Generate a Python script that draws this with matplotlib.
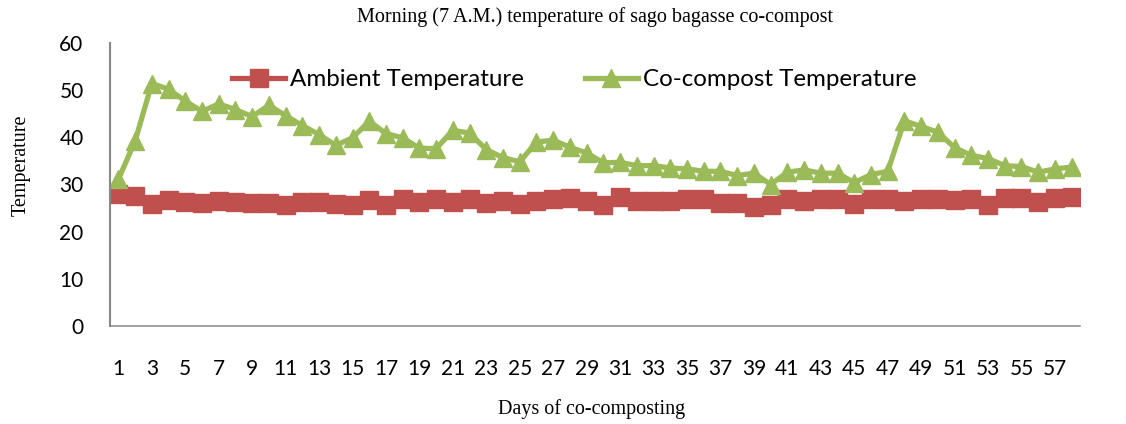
import matplotlib
matplotlib.use("Agg")
import matplotlib.pyplot as plt

days = list(range(1, 59))
ambient = [27.9, 27.5, 25.8, 26.8, 26.3, 26.1, 26.4, 26.2, 26.0, 26.0,
           25.7, 26.3, 26.3, 25.9, 25.6, 26.8, 25.6, 26.9, 26.2, 27.0,
           26.2, 27.0, 26.1, 26.6, 25.9, 26.4, 27.0, 27.1, 26.6, 25.7,
           27.3, 26.5, 26.4, 26.4, 27.0, 27.0, 26.1, 26.0, 25.3, 25.6,
           27.0, 26.4, 27.0, 27.0, 25.9, 27.0, 27.0, 26.4, 27.0, 27.0,
           26.8, 27.0, 25.6, 27.1, 27.2, 26.3, 27.1, 27.3]
compost = [31.1, 39.2, 51.4, 50.2, 47.7, 45.5, 47.1, 45.9, 44.4, 46.8,
           44.6, 42.5, 40.6, 38.3, 39.9, 43.4, 40.8, 39.9, 37.7, 37.6,
           41.5, 40.9, 37.4, 35.7, 34.8, 39.0, 39.4, 37.9, 36.7, 34.6,
           34.7, 34.0, 34.0, 33.5, 33.3, 32.8, 32.8, 31.9, 32.4, 30.0,
           32.6, 33.1, 32.4, 32.4, 30.4, 32.1, 32.8, 43.5, 42.3, 41.1,
           37.8, 36.2, 35.5, 34.0, 33.8, 32.6, 33.3, 33.7]
xtick_labels = [str(d) for d in range(1, 58, 2)]
yticks = [0, 10, 20, 30, 40, 50, 60]

fig = plt.figure(figsize=(11.26, 4.24), dpi=100)
ax = fig.add_axes([110/1126, 1 - 326/424, 970/1126, 283/424])

ax.plot(days, ambient, color="#C0504D", lw=3.8, marker="s", ms=13,
        label="Ambient Temperature")
ax.plot(days, compost, color="#9BBB59", lw=3.8, marker="^", ms=13,
        label="Co-compost Temperature")

ax.set_xlim(0.5, 58.5)
ax.set_ylim(0, 60)
ax.set_yticks(yticks)
ax.set_xticks(list(range(1, 58, 2)))
ax.set_xticklabels(xtick_labels)
for s in ["top", "right"]:
    ax.spines[s].set_visible(False)
ax.spines["left"].set_color("#888888")
ax.spines["left"].set_linewidth(1.5)
ax.spines["bottom"].set_color("#888888")
ax.spines["bottom"].set_linewidth(1.1)
ax.tick_params(axis="x", length=0, pad=23.5, labelsize=15)
ax.tick_params(axis="y", length=0, pad=19, labelsize=15)
for t in ax.get_xticklabels() + ax.get_yticklabels():
    t.set_fontfamily("Lato")

ax.set_title("Morning (7 A.M.) temperature of sago bagasse co-compost",
             family="Liberation Serif", fontsize=14.5, pad=15)
ax.set_ylabel("Temperature", family="Liberation Serif", fontsize=14.5)
ax.yaxis.set_label_coords(-0.0816, 0.567)
ax.set_xlabel("Days of co-composting", family="Liberation Serif", fontsize=14.5)
ax.xaxis.set_label_coords(0.496, -0.258)

leg = ax.legend(loc="center left", bbox_to_anchor=(0.126, 0.87), ncol=2,
                frameon=False, borderpad=0, borderaxespad=0,
                handlelength=2.2, handletextpad=0.2, columnspacing=2.5,
                prop={"family": "Lato", "size": 17.4})

fig.savefig("out.png", dpi=100)
